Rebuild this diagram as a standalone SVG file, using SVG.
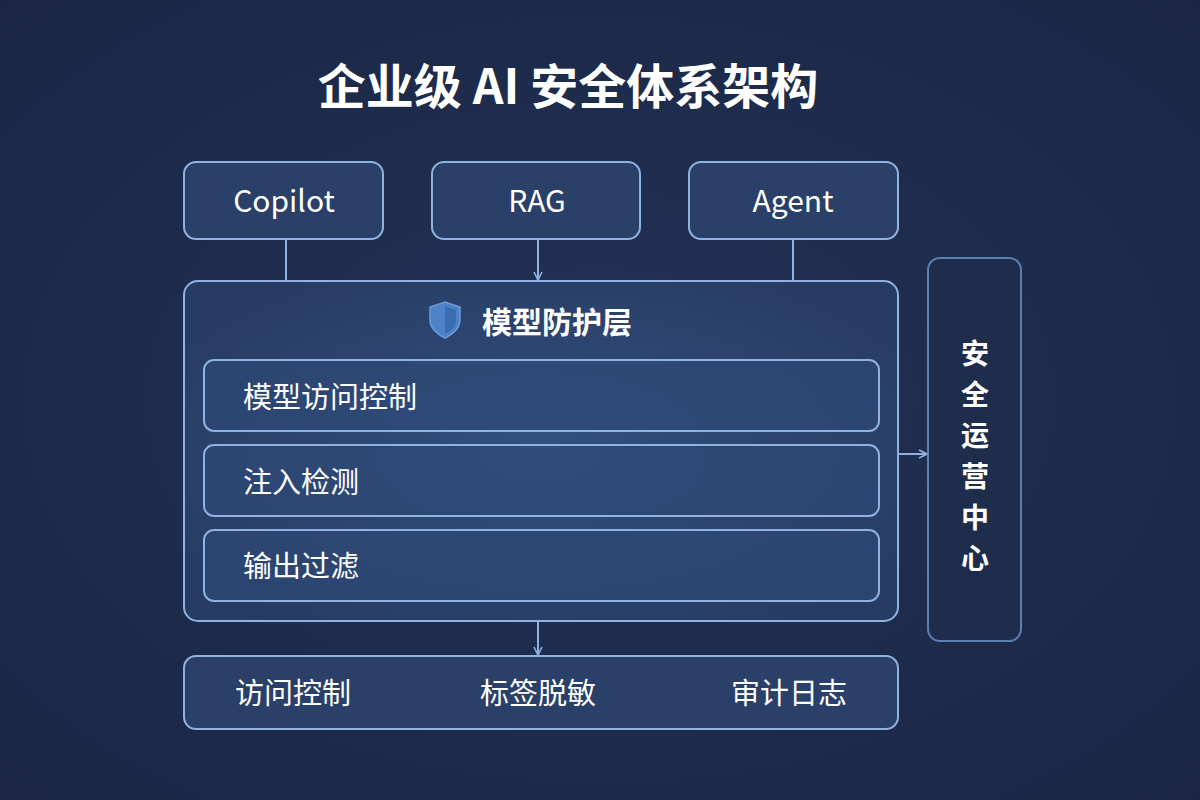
<svg xmlns="http://www.w3.org/2000/svg" width="1200" height="800" viewBox="0 0 1200 800">
<defs>
<style>
text{font-family:"Noto Sans CJK SC","Noto Sans",sans-serif;fill:#fff}
.box{fill:#2a4068;stroke:#8fb2e0;stroke-width:2}
.inner{fill:#2f4a78;stroke:#8fb2e0;stroke-width:2}
.ln{stroke:#8fb2e0;stroke-width:2;fill:none}
</style>
<radialGradient id="bg" cx="0.5" cy="0.5" r="0.7"><stop offset="0" stop-color="#223256"/><stop offset="1" stop-color="#1a2644"/></radialGradient>
<radialGradient id="mg" cx="0.5" cy="0.5" r="0.6"><stop offset="0" stop-color="#33507f"/><stop offset="1" stop-color="#273c64"/></radialGradient>
<marker id="ar" viewBox="0 0 10 10" refX="9" refY="5" markerWidth="10" markerHeight="10" markerUnits="userSpaceOnUse" orient="auto"><path d="M1 1L9 5L1 9" fill="none" stroke="#8fb2e0" stroke-width="1.6"/></marker>
</defs>
<rect width="1200" height="800" fill="url(#bg)"/>
<text x="568" y="104" font-size="48" font-weight="bold" text-anchor="middle">企业级 AI 安全体系架构</text>
<g id="connectors">
<line class="ln" x1="286" y1="239" x2="286" y2="281"/>
<line class="ln" x1="538" y1="239" x2="538" y2="280" marker-end="url(#ar)"/>
<line class="ln" x1="793" y1="239" x2="793" y2="281"/>
<line class="ln" x1="898" y1="454" x2="927" y2="454" marker-end="url(#ar)"/>
<line class="ln" x1="538" y1="621" x2="538" y2="655" marker-end="url(#ar)"/>
</g>
<g id="copilot"><rect class="box" x="184" y="162" width="199" height="77" rx="12"/><text x="284" y="212" font-size="30" text-anchor="middle">Copilot</text></g>
<g id="rag"><rect class="box" x="432" y="162" width="208" height="77" rx="12"/><text x="537" y="212" font-size="30" text-anchor="middle">RAG</text></g>
<g id="agent"><rect class="box" x="689" y="162" width="209" height="77" rx="12"/><text x="793" y="212" font-size="30" text-anchor="middle">Agent</text></g>
<g id="model-layer">
<rect x="184" y="281" width="714" height="340" rx="14" fill="url(#mg)" stroke="#8fb2e0" stroke-width="2"/>
<path d="M445 302 L460 307 V320 C460 329 453 334 445 338 C437 334 430 329 430 320 V307 Z" fill="#4d82c8" stroke="#6a9ad8" stroke-width="1.5"/>
<path d="M445 306 L456 310 V320 C456 327 451 331 445 334 Z" fill="#3a6cb0"/>
<text x="557" y="333" font-size="30" font-weight="bold" text-anchor="middle">模型防护层</text>
</g>
<g id="access"><rect class="inner" x="204" y="360" width="675" height="71" rx="10" fill-opacity="0.6"/><text x="243" y="408" font-size="29">模型访问控制</text></g>
<g id="inject"><rect class="inner" x="204" y="445" width="675" height="71" rx="10" fill-opacity="0.6"/><text x="243" y="493" font-size="29">注入检测</text></g>
<g id="output"><rect class="inner" x="204" y="530" width="675" height="71" rx="10" fill-opacity="0.6"/><text x="243" y="577" font-size="29">输出过滤</text></g>
<g id="soc"><rect x="928" y="258" width="93" height="383" rx="12" fill="#1f2d4d" stroke="#5d7fb0" stroke-width="2"/>
<text font-size="28" font-weight="bold" text-anchor="middle"><tspan x="975" y="364">安</tspan><tspan x="975" y="405">全</tspan><tspan x="975" y="446">运</tspan><tspan x="975" y="487">营</tspan><tspan x="975" y="528">中</tspan><tspan x="975" y="569">心</tspan></text></g>
<g id="base"><rect class="box" x="184" y="656" width="714" height="73" rx="12"/>
<text x="293" y="704" font-size="29" text-anchor="middle">访问控制</text>
<text x="538" y="704" font-size="29" text-anchor="middle">标签脱敏</text>
<text x="789" y="704" font-size="29" text-anchor="middle">审计日志</text></g>
</svg>
